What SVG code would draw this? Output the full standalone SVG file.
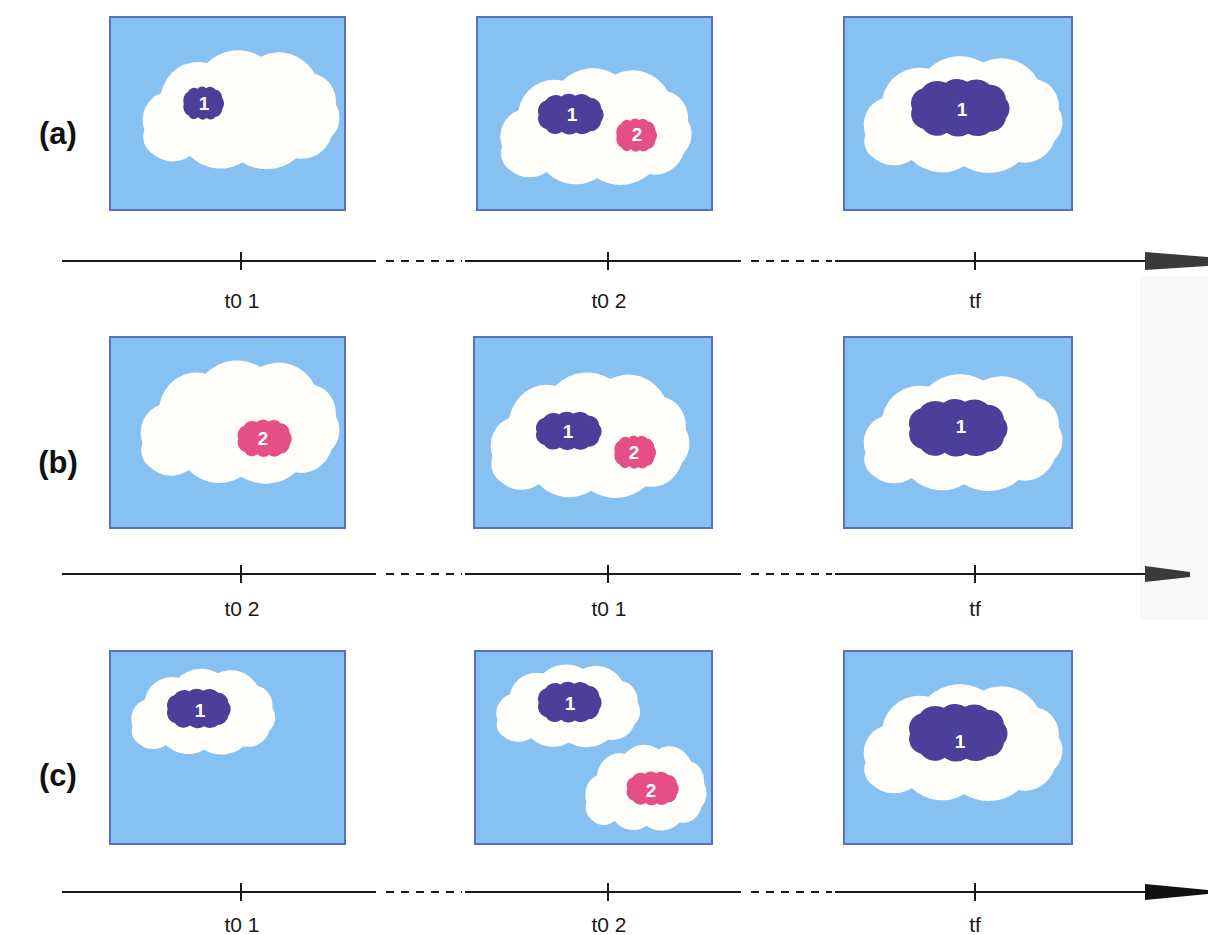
<svg xmlns="http://www.w3.org/2000/svg" xmlns:xlink="http://www.w3.org/1999/xlink" width="1208" height="935" viewBox="0 0 1208 935">
  <style>
    .panel { fill: #86c1f1; stroke: #5a6fbf; stroke-width: 2; }
    .cloud { fill: #fffefa; }
    .dark { fill: #4b3f99; }
    .pink { fill: #e64f86; }
    .num { font-family: "Liberation Sans", Arial, sans-serif; font-weight: bold; font-size: 19px; fill: #ffffff; text-anchor: middle; }
    .axis { stroke: #1a1a1a; stroke-width: 2; fill: none; }
    .dash { stroke: #1a1a1a; stroke-width: 2; fill: none; stroke-dasharray: 8 7; }
    .tick { stroke: #1a1a1a; stroke-width: 2; }
    .head { fill: #3a3a3a; }
    .lbl { font-family: "Liberation Sans", Arial, sans-serif; font-size: 21px; fill: #1a1a1a; text-anchor: middle; }
    .row { font-family: "Liberation Sans", Arial, sans-serif; font-weight: bold; font-size: 31px; fill: #111111; text-anchor: middle; }
  </style>
  <defs>
    <!-- puffy cloud outline, drawn in a 200 x 110 box -->
    <path id="cloudShape" d="M 10 76 A 26 26 0 0 1 26 42 A 36 36 0 0 1 70 14 A 44 44 0 0 1 122 8 A 40 40 0 0 1 174 24 A 26 26 0 0 1 194 52 A 24 24 0 0 1 190 82 A 30 30 0 0 1 156 102 A 46 46 0 0 1 104 106 A 42 42 0 0 1 54 100 A 30 30 0 0 1 18 98 A 18 18 0 0 1 10 76 Z"/>
    <!-- lumpy blob, drawn in a 100 x 60 box -->
    <path id="blobShape" d="M 4 32 A 16 16 0 0 1 14 11 A 18 18 0 0 1 37 5 A 18 18 0 0 1 58 4 A 18 18 0 0 1 80 7 A 16 16 0 0 1 96 22 A 16 16 0 0 1 96 42 A 16 16 0 0 1 80 56 A 18 18 0 0 1 59 58 A 18 18 0 0 1 38 57 A 16 16 0 0 1 15 53 A 16 16 0 0 1 4 32 Z"/>
  </defs>

  <rect width="1208" height="935" fill="#ffffff"/>
  <rect x="1140" y="276" width="68" height="344" fill="#f8f8f8"/>

  <!-- row labels -->
  <text class="row" x="58" y="144">(a)</text>
  <text class="row" x="58" y="473">(b)</text>
  <text class="row" x="58" y="786">(c)</text>

  <!-- row (a) -->
  <g id="a-t01">
    <rect class="panel" x="110" y="17" width="235" height="193"/>
    <use xlink:href="#cloudShape" class="cloud" transform="translate(134,48) scale(1.04,1.08)"/>
    <use xlink:href="#blobShape" class="dark" transform="translate(182,86) scale(0.42,0.55)"/>
    <text class="num" x="204" y="110">1</text>
  </g>
  <g id="a-t02">
    <rect class="panel" x="477" y="17" width="235" height="193"/>
    <use xlink:href="#cloudShape" class="cloud" transform="translate(492,66) scale(1.01,1.06)"/>
    <use xlink:href="#blobShape" class="dark" transform="translate(536,93) scale(0.68,0.68)"/>
    <text class="num" x="572" y="121">1</text>
    <use xlink:href="#blobShape" class="pink" transform="translate(615,118) scale(0.42,0.55)"/>
    <text class="num" x="637" y="141">2</text>
  </g>
  <g id="a-tf">
    <rect class="panel" x="844" y="17" width="228" height="193"/>
    <use xlink:href="#cloudShape" class="cloud" transform="translate(855,54) scale(1.05,1.06)"/>
    <use xlink:href="#blobShape" class="dark" transform="translate(908,78) scale(1.02,0.96)"/>
    <text class="num" x="962" y="116">1</text>
  </g>

  <!-- row (b) -->
  <g id="b-t02">
    <rect class="panel" x="110" y="337" width="235" height="191"/>
    <use xlink:href="#cloudShape" class="cloud" transform="translate(132,358) scale(1.05,1.12)"/>
    <use xlink:href="#blobShape" class="pink" transform="translate(236,419) scale(0.56,0.62)"/>
    <text class="num" x="263" y="445">2</text>
  </g>
  <g id="b-t01">
    <rect class="panel" x="474" y="337" width="238" height="191"/>
    <use xlink:href="#cloudShape" class="cloud" transform="translate(482,370) scale(1.05,1.14)"/>
    <use xlink:href="#blobShape" class="dark" transform="translate(534,411) scale(0.68,0.64)"/>
    <text class="num" x="568" y="438">1</text>
    <use xlink:href="#blobShape" class="pink" transform="translate(613,435) scale(0.43,0.55)"/>
    <text class="num" x="634" y="459">2</text>
  </g>
  <g id="b-tf">
    <rect class="panel" x="844" y="337" width="228" height="191"/>
    <use xlink:href="#cloudShape" class="cloud" transform="translate(855,372) scale(1.05,1.06)"/>
    <use xlink:href="#blobShape" class="dark" transform="translate(906,398) scale(1.02,0.96)"/>
    <text class="num" x="961" y="433">1</text>
  </g>

  <!-- row (c) -->
  <g id="c-t01">
    <rect class="panel" x="110" y="651" width="235" height="193"/>
    <use xlink:href="#cloudShape" class="cloud" transform="translate(125,667) scale(0.76,0.78)"/>
    <use xlink:href="#blobShape" class="dark" transform="translate(165,688) scale(0.66,0.66)"/>
    <text class="num" x="200" y="717">1</text>
  </g>
  <g id="c-t02">
    <rect class="panel" x="475" y="651" width="237" height="193"/>
    <use xlink:href="#cloudShape" class="cloud" transform="translate(490,663) scale(0.76,0.75)"/>
    <use xlink:href="#blobShape" class="dark" transform="translate(536,681) scale(0.66,0.68)"/>
    <text class="num" x="570" y="710">1</text>
    <use xlink:href="#cloudShape" class="cloud" transform="translate(580,743) scale(0.64,0.78)"/>
    <use xlink:href="#blobShape" class="pink" transform="translate(625,771) scale(0.54,0.56)"/>
    <text class="num" x="651" y="797">2</text>
  </g>
  <g id="c-tf">
    <rect class="panel" x="844" y="651" width="228" height="193"/>
    <use xlink:href="#cloudShape" class="cloud" transform="translate(855,682) scale(1.05,1.06)"/>
    <use xlink:href="#blobShape" class="dark" transform="translate(906,703) scale(1.02,0.96)"/>
    <text class="num" x="960" y="748">1</text>
  </g>

  <!-- time axes -->
  <g id="axes">
    <g id="axis-a">
      <path class="axis" d="M 62 261 H 376 M 465 261 H 741 M 835 261 H 1146"/>
      <path class="dash" d="M 386 261 H 462 M 751 261 H 832"/>
      <path class="tick" d="M 241 252 V 270 M 608 252 V 270 M 975 252 V 270"/>
      <polygon class="head" points="1145,252 1208,257 1208,266 1145,270"/>
    </g>
    <g id="axis-b">
      <path class="axis" d="M 62 574 H 376 M 465 574 H 741 M 835 574 H 1146"/>
      <path class="dash" d="M 386 574 H 462 M 751 574 H 832"/>
      <path class="tick" d="M 241 565 V 583 M 608 565 V 583 M 975 565 V 583"/>
      <polygon class="head" points="1145,566 1190,572 1190,577 1145,582"/>
    </g>
    <g id="axis-c">
      <path class="axis" d="M 62 892 H 376 M 465 892 H 741 M 835 892 H 1146"/>
      <path class="dash" d="M 386 892 H 462 M 751 892 H 832"/>
      <path class="tick" d="M 241 883 V 901 M 608 883 V 901 M 975 883 V 901"/>
      <polygon fill="#111111" points="1145,884 1208,890 1208,894 1145,900"/>
    </g>
  </g>

  <!-- axis labels -->
  <text class="lbl" x="242" y="308">t0 1</text>
  <text class="lbl" x="609" y="308">t0 2</text>
  <text class="lbl" x="975" y="308">tf</text>
  <text class="lbl" x="242" y="616">t0 2</text>
  <text class="lbl" x="609" y="616">t0 1</text>
  <text class="lbl" x="975" y="616">tf</text>
  <text class="lbl" x="242" y="932">t0 1</text>
  <text class="lbl" x="609" y="932">t0 2</text>
  <text class="lbl" x="975" y="932">tf</text>
</svg>
